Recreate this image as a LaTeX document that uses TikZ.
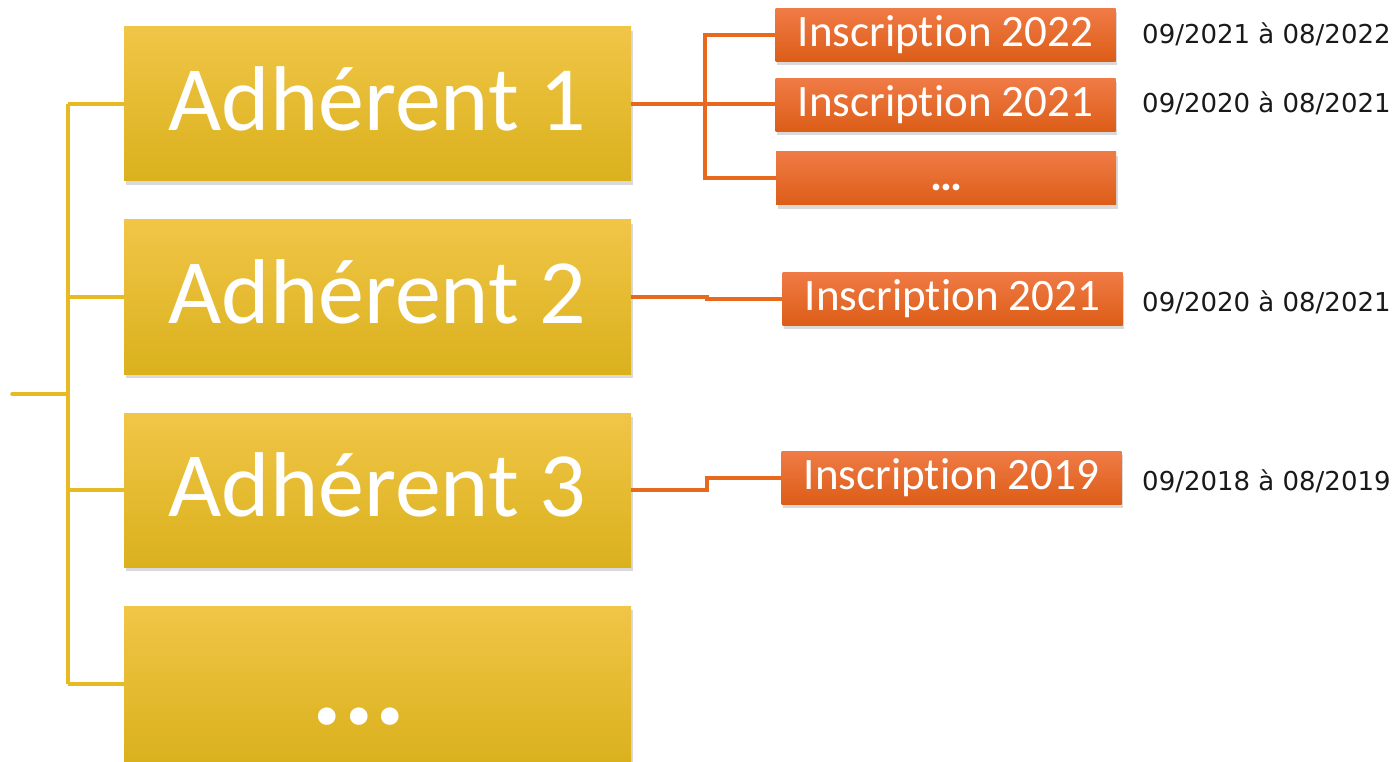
\documentclass[tikz,border=0pt]{standalone}
\usepackage{fontspec}
\setmainfont{Carlito}[Ligatures={NoCommon}]
\newfontfamily\datefont{DejaVu Sans}
\usetikzlibrary{shadows}
\definecolor{ytop}{HTML}{F1C547}
\definecolor{ybot}{HTML}{DAB11D}
\definecolor{otop}{HTML}{F07B46}
\definecolor{obot}{HTML}{DC5D17}
\definecolor{yline}{HTML}{E7B923}
\definecolor{oline}{HTML}{E8691E}
\tikzset{
  ybox/.style={minimum width=507pt, minimum height=154pt, inner sep=0pt,
    top color=ytop, bottom color=ybot, draw=none, text=white,
    font=\fontsize{92}{100}\selectfont, text depth=10pt,
    drop shadow={opacity=0.3, shadow xshift=1.5pt, shadow yshift=-4pt}},
  obox/.style={minimum width=340pt, minimum height=53pt, inner sep=0pt,
    top color=otop, bottom color=obot, draw=none, text=white,
    font=\fontsize{45}{50}\selectfont,
    drop shadow={opacity=0.3, shadow xshift=1.5pt, shadow yshift=-4pt}},
  datetxt/.style={anchor=west, inner sep=0pt, text=black!90,
    font=\datefont\fontsize{26}{28}\selectfont},
  yconn/.style={draw=yline, line width=3.5pt},
  oconn/.style={draw=oline, line width=4pt}
}
\begin{document}
\begin{tikzpicture}[x=1pt, y=-1pt]
\useasboundingbox (0,0) rectangle (1397,762);
% yellow boxes
\node[ybox] (a1) at (377.5,104) {Adhérent 1};
\node[ybox] (a2) at (377.5,297) {Adhérent 2};
\node[ybox] (a3) at (377.5,490) {Adhérent 3};
\node[ybox, minimum height=156pt] (a4) at (377.5,684) {};
\node[anchor=base, inner sep=0pt, text=white, font=\bfseries\fontsize{118}{130}\selectfont] (a4dots) at (359,724) {...};
% orange boxes
\node[obox] (i1) at (945.5,35) {Inscription 2022};
\node[obox] (i2) at (945.5,105) {Inscription 2021};
\node[obox] (i3) at (946,178.5) {\vphantom{Inscription 2022}\textbf{…}};
\node[obox] (b2) at (952.5,298.5) {Inscription 2021};
\node[obox] (b3) at (951.5,477.5) {Inscription 2019};
% dates
\node[datetxt] (d1) at (1142,34) {09/2021 à 08/2022};
\node[datetxt] (d2) at (1142,103) {09/2020 à 08/2021};
\node[datetxt] (d3) at (1142,302) {09/2020 à 08/2021};
\node[datetxt] (d4) at (1142,481) {09/2018 à 08/2019};
% left tree
\coordinate (root) at (12,394);
\coordinate (t1) at (68,104);
\coordinate (t4) at (68,684);
\draw[yconn, line cap=round] (root) -- (root -| t1);
\draw[yconn] (t1) -- (t4);
\draw[yconn] (t1) -- (a1.west);
\draw[yconn] (a2.west -| t1) -- (a2.west);
\draw[yconn] (a3.west -| t1) -- (a3.west);
\draw[yconn] (t4) -- (a4.west);
% orange connectors
\coordinate (bus1) at (705,104);
\draw[oconn] (a1.east) -- (bus1);
\draw[oconn] (bus1) |- (i1.west);
\draw[oconn] (bus1) -- (i2.west |- bus1);
\draw[oconn] (bus1) |- (i3.west);
\draw[oconn] (a2.east) -- ++(76,0) |- (b2.west);
\draw[oconn] (a3.east) -- ++(76,0) |- (b3.west);
\end{tikzpicture}
\end{document}
